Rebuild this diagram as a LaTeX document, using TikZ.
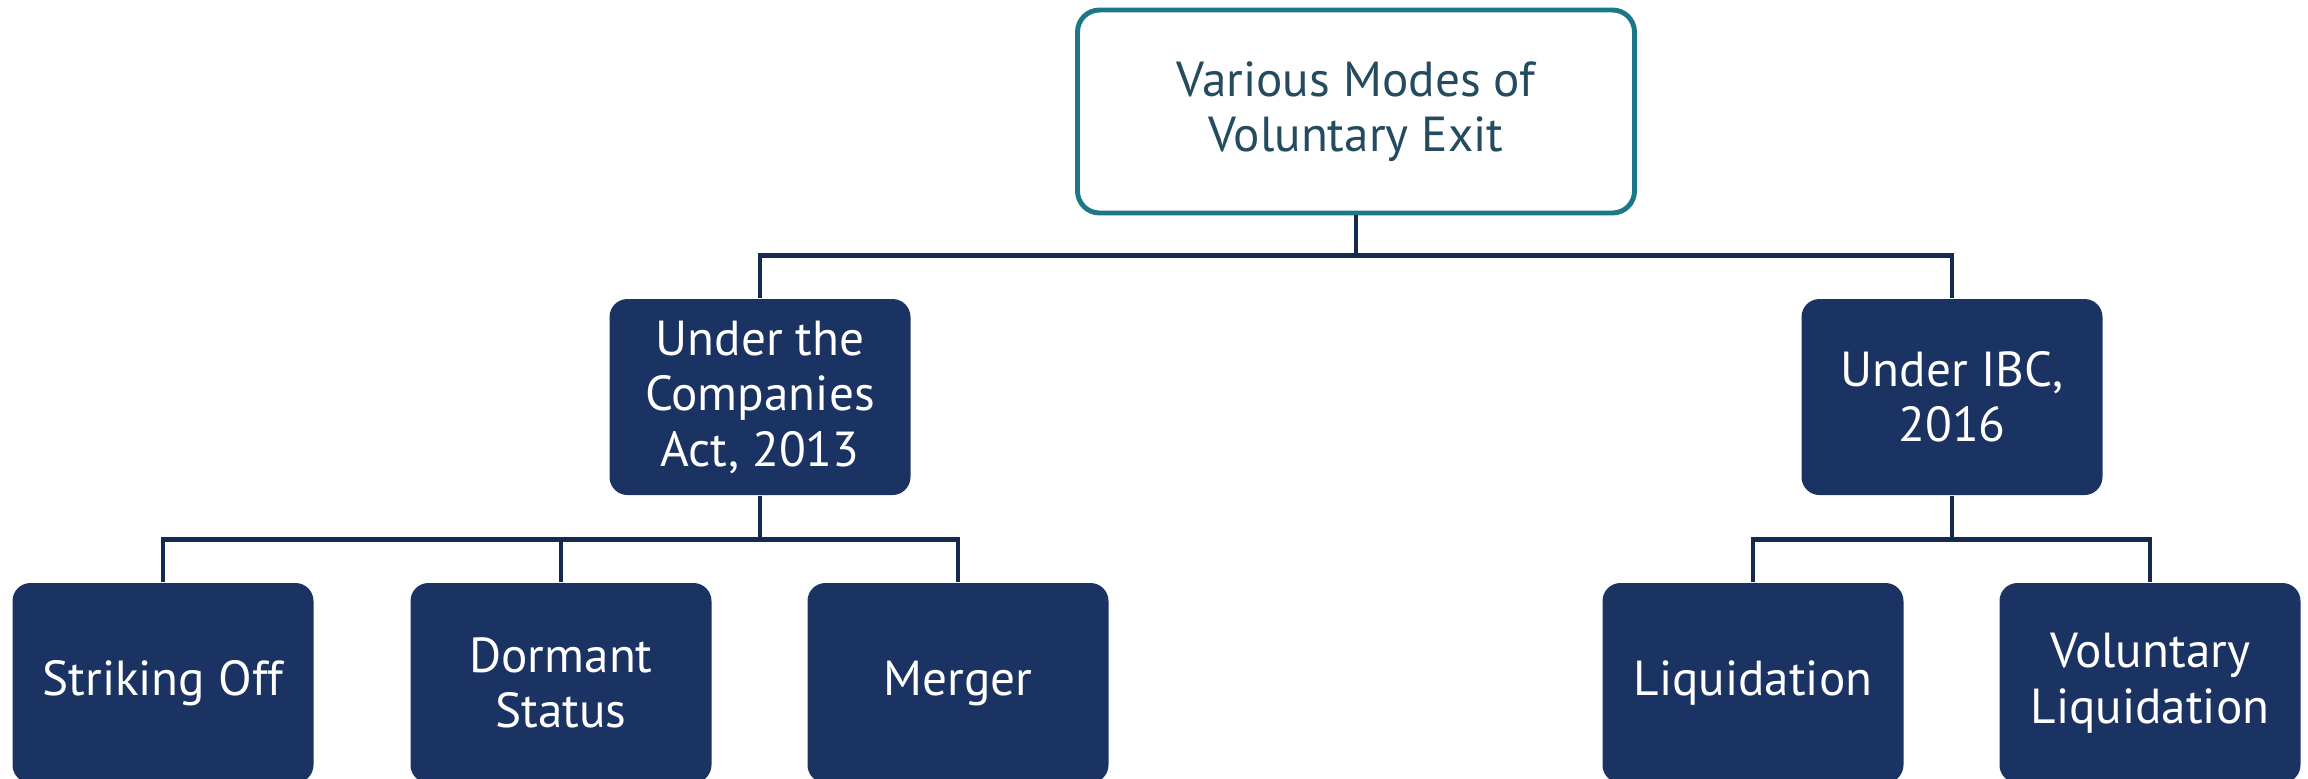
\documentclass[tikz,border=0pt]{standalone}
\usepackage{fontspec}
\setsansfont{PT Sans}
\usepackage{tikz}
\usetikzlibrary{
  positioning,
  backgrounds
}
\definecolor{navybox}{HTML}{1B3362}
\definecolor{navyline}{HTML}{16294F}
\definecolor{tealline}{HTML}{1C7888}
\definecolor{tealtext}{HTML}{244B5E}

\begin{document}
\begin{tikzpicture}[
      headbox/.style={
         rectangle,
         rounded corners=2.2mm,
         minimum width=55.7mm,
         minimum height=20.3mm,
         inner sep=0pt,
         line width=1.4pt,
         draw=tealline,
         fill=white,
         text=tealtext,
         align=center,
         font=\sffamily\fontsize{14}{15.8}\selectfont
      },
      modebox/.style={
         rectangle,
         rounded corners=1.8mm,
         minimum width=30.1mm,
         minimum height=19.6mm,
         inner sep=0pt,
         fill=navybox,
         text=white,
         align=center,
         font=\sffamily\fontsize{14}{15.8}\selectfont
      },
      bus path/.style={
         to path={-- ++(0,-#1) -| (\tikztotarget)}
      },
      link/.style={line width=1.4pt,draw=navyline}
    ]
    \clip (0,0) rectangle (23.08,-7.79);
    % top
    \node (exit) [headbox] at (13.56,-1.115) {Various Modes of\\Voluntary Exit};
    % second row
    \node (act)  [modebox] at (7.60,-3.97) {Under the\\Companies\\Act, 2013};
    \node (ibc)  [modebox] at (19.52,-3.97) {Under IBC,\\2016};
    % third row
    \node (strike)  [modebox, minimum height=20mm] at (1.63,-6.83) {Striking Off};
    \node (dormant) [modebox, minimum height=20mm] at (5.61,-6.83) {Dormant\\Status};
    \node (merger)  [modebox, minimum height=20mm] at (9.58,-6.83) {Merger};
    \node (liq)     [modebox, minimum height=20mm] at (17.53,-6.83) {Liquidation};
    \node (volliq)  [modebox, minimum height=20mm] at (21.50,-6.83) {Voluntary\\Liquidation};
    % connectors
    \draw[link] (exit.south) to[bus path=0.40] (act.north);
    \draw[link] (exit.south) to[bus path=0.40] (ibc.north);
    \foreach \t in {strike,dormant,merger}
       \draw[link] (act.south) to[bus path=0.44] (\t.north);
    \foreach \t in {liq,volliq}
       \draw[link] (ibc.south) to[bus path=0.44] (\t.north);
\end{tikzpicture}
\end{document}
